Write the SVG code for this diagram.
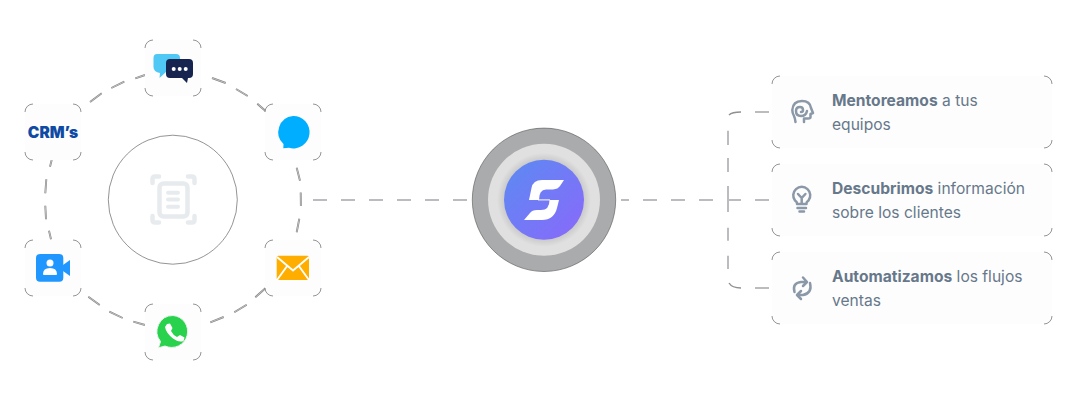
<svg xmlns="http://www.w3.org/2000/svg" width="1088" height="400" viewBox="0 0 1088 400">
<defs>
<style>
.d1{fill:none;stroke:#858585;stroke-width:1.9}
.d2{fill:none;stroke:#c4c4c4;stroke-width:.9}
.h{fill:none;stroke:#bcbcc0;stroke-width:2}
.box{fill:#fdfdfe}
.cr{fill:none;stroke:#666;stroke-width:.7}
.t{font-family:"Inter","Noto Sans",sans-serif;font-size:15.600px;fill:#67788a}
.b{font-weight:700}
.ic{fill:none;stroke:#8b98a7;stroke-width:2.5;stroke-linecap:round;stroke-linejoin:round}
</style>
<linearGradient id="g" x1="0" y1="0" x2="1" y2="1"><stop offset="0" stop-color="#5b8bf2"/><stop offset="1" stop-color="#8a68fb"/></linearGradient>
<radialGradient id="halo"><stop offset=".8" stop-color="#c4c4c4"/><stop offset="1" stop-color="#e0e0e0"/></radialGradient>
<path id="n" d="M0 8A8 8 0 0 1 8 0M48 0A8 8 0 0 1 56 8M56 48A8 8 0 0 1 48 56M8 56A8 8 0 0 1 0 48" class="cr"/>
</defs>
<rect width="1088" height="400" fill="#fff"/>
<g id="connectors">
<path class="d1" id="ring" d="M90 102L101.700 93.300M111.300 88L124.300 81.700M135.300 78.300L145 75M212 78L225.700 83M236 89L247.700 96M257.300 103.700L266.700 112M296.700 167.700L300 180.700M300.700 192.500L300.900 206M299.300 218.700L296.700 232.300M265.700 288L255.300 297.300M246.700 304.700L234.300 312.300M223.700 317L210.300 322.300M145 325L133.300 321.700M122.700 318L109.300 311.700M99.700 305L88.300 296.700M51 239.300L49 230.700M46 219.300L45.300 205.700M45.300 193.300L46.300 179.300M50 166.700L51.700 160"/>
<path class="d2" d="M90 102L101.700 93.300M111.300 88L124.300 81.700M135.300 78.300L145 75M212 78L225.700 83M236 89L247.700 96M257.300 103.700L266.700 112M296.700 167.700L300 180.700M300.700 192.500L300.900 206M299.300 218.700L296.700 232.300M265.700 288L255.300 297.300M246.700 304.700L234.300 312.300M223.700 317L210.300 322.300M145 325L133.300 321.700M122.700 318L109.300 311.700M99.700 305L88.300 296.700M51 239.300L49 230.700M46 219.300L45.300 205.700M45.300 193.300L46.300 179.300M50 166.700L51.700 160"/>
<path class="h" d="M313 200H327M341 200H355M369 200H383M397 200H411M425 200H439M453 200H467"/>
<path class="h" d="M621 200H629M643 200H657M671 200H685M699 200H713M729 200H741M755 200H769"/>
<path class="h" d="M755 112H769M755 288H769"/>
<path class="h" d="M728 130.700V145M728 158V172M728 186V212M728 227.700V240.700M728 255.700V269"/>
<path d="M729 115Q732 112 741 112M729 283Q732 288 741 288" fill="none" stroke="#909090" stroke-width="1.400"/>
</g>
<g id="node-center-left">
<circle cx="172.800" cy="199.700" r="64.500" fill="#fff" stroke="#666" stroke-width=".7"/>
<g fill="none" stroke="#e8ebee" stroke-width="4.500" stroke-linecap="round" stroke-linejoin="round">
<rect x="159.500" y="183.500" width="28" height="33" rx="4"/>
<path d="M152.500 183V179Q152.500 176.500 155 176.500H159M188 176.500H192Q194.500 176.500 194.500 179V183M152.500 216V220Q152.500 222.500 155 222.500H159M188 222.500H192Q194.500 222.500 194.500 220V216"/>
<path d="M168 192.700H178M168 199.500H178M168 206.700H178" stroke-width="4"/>
</g>
</g>
<g id="node-chat">
<rect class="box" x="145" y="40" width="56" height="56" rx="8"/><use href="#n" x="145" y="40"/>
<path fill="#4fc8f5" d="M157 54H176Q180 54 180 58V68Q180 72 176 72H166L159.500 78L160 73Q153.500 72 153.500 67V58Q153.500 54 157 54Z"/>
<path fill="#17244f" d="M170 59H189Q193 59 193 63V74Q193 78 189 78H188L187 83L182 78H170Q166 78 166 74V63Q166 59 170 59Z"/>
<g fill="#fff"><circle cx="173.700" cy="69" r="2"/><circle cx="179.700" cy="69" r="2"/><circle cx="185.700" cy="69" r="2"/></g>
</g>
<g id="node-messenger">
<rect class="box" x="265" y="104" width="56" height="56" rx="8"/><use href="#n" x="265" y="104"/>
<path fill="#00aeff" d="M293 116A16.200 16.200 0 1 1 289 147.800L283.300 148.300L283.500 144A16.200 16.200 0 0 1 293 116Z"/>
</g>
<g id="node-crm">
<rect class="box" x="25" y="104" width="56" height="56" rx="8"/><use href="#n" x="25" y="104"/>
<text x="53" y="138" text-anchor="middle" font-family="Inter,'Liberation Sans',sans-serif" font-size="15.500" font-weight="900" fill="#0f4aa3">CRM’s</text>
</g>
<g id="node-video">
<rect class="box" x="25" y="240" width="56" height="56" rx="8"/><use href="#n" x="25" y="240"/>
<rect x="36" y="254" width="27.300" height="27.700" rx="4" fill="#1f97ff"/>
<path fill="#1f97ff" d="M63 265L70 260V276L63 271Z"/>
<circle cx="50" cy="263" r="3.500" fill="#fff"/>
<path fill="#fff" d="M43 274Q43 268 50 268Q57 268 57 274Q57 275 56 275H44Q43 275 43 274Z"/>
</g>
<g id="node-mail">
<rect class="box" x="265" y="240" width="56" height="56" rx="8"/><use href="#n" x="265" y="240"/>
<rect x="276.700" y="255.700" width="32.300" height="24.300" rx="1.500" fill="#ffae00"/>
<path d="M277 257L293 270.500L309 257M277 280L287.500 265.500M309 280L298.500 265.500" fill="none" stroke="#fff" stroke-width="1.900"/>
</g>
<g id="node-whatsapp">
<rect class="box" x="145" y="304" width="56" height="56" rx="8"/><use href="#n" x="145" y="304"/>
<path fill="#29d24d" stroke="#eef0ee" stroke-width="1" d="M173 315.500A16 16 0 1 1 165 346L158.500 347.800L160.500 341.500A16 16 0 0 1 173 315.500Z"/>
<path fill="#fff" d="M167 324L170 323.500L172.500 328L171 331Q173 335 177 337L180 335L184.500 337.500L183.500 341Q179 343 173 338.500Q166 333 165 327Z"/>
</g>
<g id="node-hub">
<circle cx="544" cy="199.800" r="71.700" fill="#aaabac" stroke="#555" stroke-width=".6"/>
<circle cx="544" cy="199.800" r="56" fill="#e0e0e0"/>
<circle cx="544" cy="199.800" r="47" fill="url(#halo)"/>
<circle cx="544" cy="199.800" r="40" fill="url(#g)"/>
<path fill="#fff" d="M564 180H542Q533 180 531.500 188L529 200H539Q539 189.500 546 189.500H553Q558 189 560 186Z"/>
<path fill="#fff" d="M559 200L557 208Q554 220 542 220H524L530 213Q532 210 537 210H541Q549.500 210 549.500 200Z"/>
<rect x="538" y="199.400" width="12" height="1" fill="#fff"/>
</g>
<g id="card-1">
<rect class="box" x="772" y="76" width="280" height="72" rx="8"/>
<path class="cr" d="M772 84A8 8 0 0 1 780 76M1044 76A8 8 0 0 1 1052 84M1052 140A8 8 0 0 1 1044 148M780 148A8 8 0 0 1 772 140"/>
<path class="ic" d="M795.500 122Q795 118 794 116Q792.300 113 792.300 110Q793 101 802 101Q810 101 811 108L813 113L810.500 114V117Q810.500 118.500 808 118.500H804V122M801 112Q803 112 803 110Q803 107 800 107Q796 107 796 111Q796 116 801 116Q806 116 807 111"/>
<text class="t" x="832" y="105.700"><tspan class="b">Mentoreamos</tspan> a tus</text>
<text class="t" x="832" y="129.500">equipos</text>
</g>
<g id="card-2">
<rect class="box" x="772" y="164" width="280" height="72" rx="8"/>
<path class="cr" d="M772 172A8 8 0 0 1 780 164M1044 164A8 8 0 0 1 1052 172M1052 228A8 8 0 0 1 1044 236M780 236A8 8 0 0 1 772 228"/>
<path class="ic" d="M797 204V203Q797 202 795 200.500A8.500 8.500 0 1 1 808.500 200.500Q806.500 202 806.500 203V204ZM797.500 208H806M799.500 211.500H804M798 194L801.700 198L805.400 194M801.700 198V204"/>
<text class="t" x="832" y="193.700"><tspan class="b">Descubrimos</tspan> información</text>
<text class="t" x="832" y="217.700">sobre los clientes</text>
</g>
<g id="card-3">
<rect class="box" x="772" y="252" width="280" height="72" rx="8"/>
<path class="cr" d="M772 260A8 8 0 0 1 780 252M1044 252A8 8 0 0 1 1052 260M1052 316A8 8 0 0 1 1044 324M780 324A8 8 0 0 1 772 316"/>
<path class="ic" d="M794.500 292Q792 283 801 282H806M803 277.500L807 282L803 286M810 283Q812.500 293 803 295H798M801 291L797 295L801 299"/>
<text class="t" x="832" y="281.700"><tspan class="b">Automatizamos</tspan> los flujos</text>
<text class="t" x="832" y="305.700">ventas</text>
</g>
</svg>
